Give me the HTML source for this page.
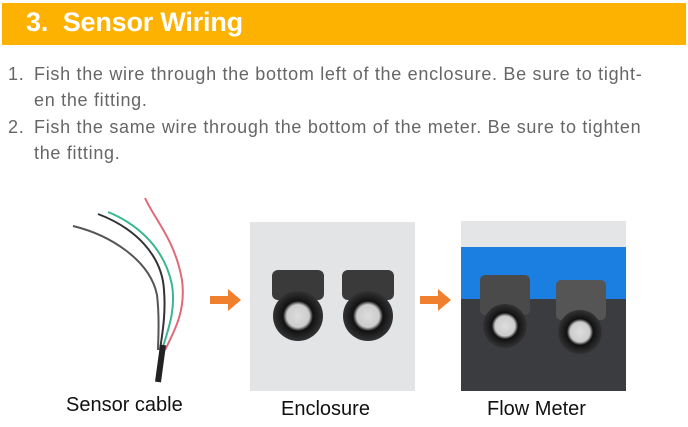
<!DOCTYPE html>
<html><head><style>
body{margin:0;width:688px;height:427px;background:#fff;position:relative;overflow:hidden;font-family:"Liberation Sans",sans-serif}
.ban{position:absolute;left:2px;top:3px;width:684px;height:42px;background:#FDB100}
.ban span{position:absolute;left:24px;top:4px;color:#fff;font-weight:bold;font-size:27px;letter-spacing:-0.2px}
.li{position:absolute;color:#666;font-size:18px;line-height:25.5px;letter-spacing:0.7px;white-space:nowrap}
.lab{position:absolute;font-size:20px;color:#111}
</style></head><body>
<div class="ban"><span>3.&nbsp; Sensor Wiring</span></div>
<div class="li" style="left:8px;top:62px">1.</div>
<div class="li" style="left:34px;top:62px">Fish the wire through the bottom left of the enclosure. Be sure to tight-<br>en the fitting.</div>
<div class="li" style="left:8px;top:115px">2.</div>
<div class="li" style="left:34px;top:115px">Fish the same wire through the bottom of the meter. Be sure to tighten<br>the fitting.</div>
<svg width="688" height="427" style="position:absolute;left:0;top:0">
<defs>
<radialGradient id="g1" cx="0.5" cy="0.5" r="0.5"><stop offset="0" stop-color="#ddd"/><stop offset="0.45" stop-color="#ccc"/><stop offset="0.6" stop-color="#111"/><stop offset="1" stop-color="#333"/></radialGradient>
</defs>
<g fill="none" stroke-width="2">
<path d="M145 198 C155 220 175 240 182 280 C186 310 175 330 165 350" stroke="#e06a77"/>
<path d="M108 212 C140 225 165 250 172 285 C176 310 168 330 162 350" stroke="#3ab88a"/>
<path d="M98 214 C135 228 162 255 164 290 C166 315 162 335 160 350" stroke="#333"/>
<path d="M73 226 C110 235 150 260 157 295 C160 320 158 340 158 350" stroke="#555"/>
<path d="M163 345 L158 382" stroke="#222" stroke-width="6"/>
</g>
<path d="M210 296 h18 v-7 l13 11 l-13 11 v-7 h-18z" fill="#F07F2E"/>
<path d="M420 296 h18 v-7 l13 11 l-13 11 v-7 h-18z" fill="#F07F2E"/>
<rect x="250" y="222" width="165" height="169" fill="#e3e4e6"/>
<rect x="272" y="270" width="52" height="30" rx="6" fill="#3a3a3a"/>
<rect x="342" y="270" width="52" height="30" rx="6" fill="#3a3a3a"/>
<circle cx="298" cy="316" r="25" fill="url(#g1)"/>
<circle cx="368" cy="316" r="25" fill="url(#g1)"/>
<rect x="461" y="221" width="165" height="170" fill="#3a3c40"/>
<rect x="461" y="221" width="165" height="26" fill="#e4e5e7"/>
<rect x="461" y="247" width="165" height="52" fill="#1a7fe0"/>
<rect x="480" y="275" width="50" height="40" rx="5" fill="#4a4a4a"/>
<rect x="556" y="280" width="50" height="40" rx="5" fill="#555"/>
<circle cx="505" cy="326" r="22" fill="url(#g1)"/>
<circle cx="580" cy="332" r="22" fill="url(#g1)"/>
</svg>
<div class="lab" style="left:66px;top:394px">Sensor cable</div>
<div class="lab" style="left:281px;top:398px">Enclosure</div>
<div class="lab" style="left:487px;top:398px">Flow Meter</div>
</body></html>
